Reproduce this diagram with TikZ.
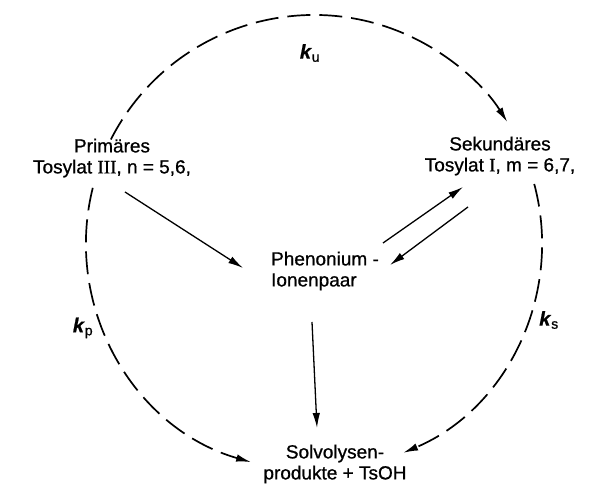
\documentclass[tikz,border=0pt]{standalone}
\usepackage{fontspec}
\setmainfont[FakeBold=0.8]{Liberation Sans}
\newfontfamily\numfont[FakeBold=0.8]{Liberation Serif}
\usetikzlibrary{arrows.meta,calc}
\tikzset{
  lbl/.style  = {align=center, font=\fontsize{19}{21}\selectfont, inner sep=0pt},
  klbl/.style = {font=\fontsize{20}{22}\selectfont, inner sep=0pt},
  fl/.style   = {-{Latex[length=15pt,width=7.5pt]}, line width=1.3pt},
  ring/.style = {fl, dash pattern=on 23pt off 9pt, line width=1.7pt},
}
\newcommand\rate[1]{\textbf{\textit{k}}\textsubscript{#1}}

\begin{document}
\begin{tikzpicture}[x=1pt,y=1pt]
  \useasboundingbox (0,0) rectangle (590,489);

  % ---- species ----
  \node[lbl] (prim) at (112,331) {Primäres\\Tosylat {\numfont III}, n = 5,6,};
  \node[lbl] (sek)  at (500,333) {Sekundäres\\Tosylat {\numfont I}, m = 6,7,};
  \node[lbl, align=left] (phen) at (325,218) {Phenonium -\\Ionenpaar};
  \node[lbl] (solv) at (335,25) {Solvolysen-\\produkte + TsOH};

  % ---- rate constants ----
  \node[klbl] (ku) at (310,436) {\rate{u}};
  \node[klbl] (kp) at (83,161)  {\rate{p}};
  \node[klbl] (ks) at (549,169) {\rate{s}};

  % ---- dashed ring ----
  \coordinate (c) at (314,246);
  \draw[ring] ($(c)+(153:228)$) arc[start angle=153, end angle=32, radius=228];
  \draw[ring] ($(c)+(15:228)$)  arc[start angle=15, end angle=-67, radius=228];
  \draw[ring] ($(c)+(166:228)$) arc[start angle=166, end angle=254, radius=228];

  % ---- ion pair route ----
  \draw[fl] ($(prim.center)+(13,-34)$) -- ($(phen.center)+(-82,3)$);
  \draw[fl] ($(phen.center)+(58,28)$)  -- ($(sek.center)+(-37,-31)$);
  \draw[fl] ($(sek.center)+(-32,-51)$) -- ($(phen.center)+(65,6)$);
  \draw[fl] ($(phen.center)+(-13,-51)$) -- ($(solv.center)+(-18,36)$);
\end{tikzpicture}
\end{document}
